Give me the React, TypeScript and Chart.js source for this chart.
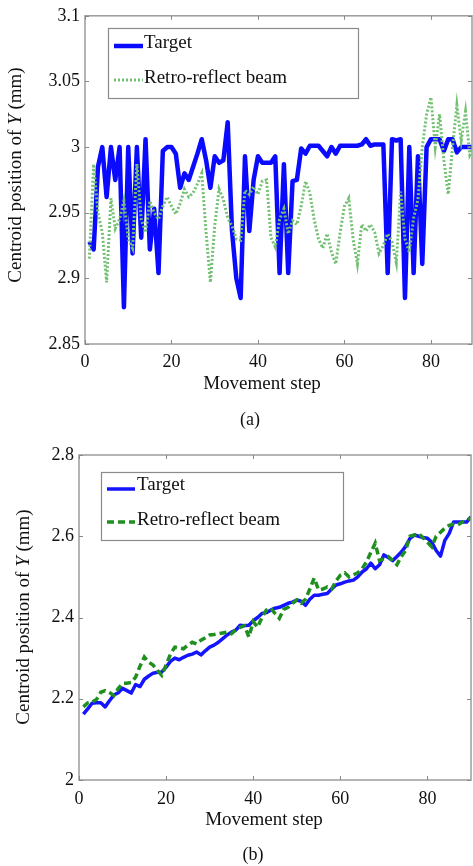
import React, { useEffect, useRef } from "react";
import { Chart, registerables } from "chart.js";
Chart.register(...registerables);

const FONT = '"Liberation Serif", "Times New Roman", Times, serif';

// ---------- data ----------
const firstStep = 1;
const seriesNames = ["Target", "Retro-reflect beam"];
const xTickStep = 20;

// (a)
const targetA = [
  2.928, 2.922, 2.985, 3.0, 2.962, 3.0, 2.975, 3.0, 2.878, 3.0,
  2.919, 3.0, 2.931, 3.006, 2.922, 2.953, 2.904, 2.997, 3.0, 3.0,
  2.995, 2.969, 2.98, 2.975, 2.985, 2.995, 3.006, 2.99, 2.969, 2.993,
  2.988, 2.99, 3.019, 2.936, 2.9, 2.885, 2.993, 2.936, 2.975, 2.993,
  2.988, 2.988, 2.988, 2.993, 2.904, 2.987, 2.904, 2.974, 2.975, 2.999,
  2.995, 3.001, 3.001, 3.001, 2.997, 2.993, 3.0, 2.995, 3.001, 3.001,
  3.001, 3.001, 3.001, 3.002, 3.006, 3.001, 3.002, 3.002, 3.002, 2.904,
  3.006, 3.005, 3.006, 2.885, 3.0, 2.904, 2.993, 2.911, 3.0, 3.006,
  3.006, 3.006, 2.997, 3.006, 3.006, 2.996, 3.0, 3.0, 3.0, 3.0,
];
const retroA = [
  2.915, 2.987, 2.95, 2.935, 2.897, 2.961, 2.938, 2.945, 2.959, 2.93,
  2.923, 2.987, 2.945, 2.935, 2.959, 2.95, 2.945, 2.955, 2.962, 2.955,
  2.949, 2.957, 2.968, 2.962, 2.965, 2.972, 2.98, 2.935, 2.897, 2.94,
  2.968, 2.96, 2.946, 2.94, 2.93, 2.929, 2.967, 2.964, 2.97, 2.964,
  2.974, 2.975, 2.931, 2.924, 2.945, 2.953, 2.934, 2.944, 2.941, 2.955,
  2.974, 2.965, 2.945, 2.93, 2.923, 2.934, 2.92, 2.911, 2.935, 2.955,
  2.961, 2.93, 2.911, 2.941, 2.936, 2.941, 2.935, 2.919, 2.925, 2.934,
  2.928, 2.912, 2.966, 2.93, 2.92, 2.946, 2.96, 3.0, 3.025, 3.038,
  3.0, 3.025, 2.99, 2.964, 3.0, 3.032, 3.005, 3.027, 2.994, 3.0,
];
const yRangeA = [2.85, 3.1];
const yStepA = 0.05;
const xMaxA = 89.5;

// (b)
const targetB = [
  2.162, 2.175, 2.189, 2.19, 2.19, 2.18, 2.195, 2.209, 2.215, 2.226,
  2.22, 2.214, 2.235, 2.23, 2.248, 2.256, 2.263, 2.265, 2.266, 2.278,
  2.292, 2.3, 2.296, 2.302, 2.307, 2.31, 2.315, 2.308, 2.318, 2.327,
  2.332, 2.339, 2.348, 2.357, 2.364, 2.369, 2.381, 2.38, 2.381, 2.392,
  2.4, 2.41, 2.412, 2.418, 2.423, 2.425, 2.43, 2.435, 2.438, 2.443,
  2.44, 2.43, 2.445, 2.455, 2.455, 2.457, 2.459, 2.47, 2.48, 2.483,
  2.487, 2.49, 2.492, 2.5, 2.512, 2.52, 2.534, 2.52, 2.53, 2.554,
  2.548, 2.54, 2.55, 2.561, 2.575, 2.595, 2.603, 2.6, 2.597, 2.595,
  2.585, 2.565, 2.551, 2.59, 2.607, 2.635, 2.635, 2.635, 2.635, 2.648,
];
const retroB = [
  2.18, 2.19, 2.192, 2.198, 2.216, 2.22, 2.215, 2.208, 2.225, 2.238,
  2.238, 2.24, 2.253, 2.28, 2.303, 2.29, 2.283, 2.27, 2.258, 2.283,
  2.31, 2.327, 2.325, 2.323, 2.332, 2.339, 2.335, 2.344, 2.35, 2.357,
  2.358, 2.36, 2.362, 2.364, 2.36, 2.37, 2.376, 2.38, 2.352, 2.39,
  2.376, 2.4, 2.418, 2.423, 2.41, 2.398, 2.42, 2.425, 2.435, 2.443,
  2.435, 2.445, 2.47, 2.497, 2.468, 2.47, 2.475, 2.47, 2.49, 2.504,
  2.51, 2.5, 2.505, 2.51, 2.52, 2.537, 2.56, 2.583, 2.54, 2.545,
  2.55, 2.54, 2.53, 2.55, 2.565, 2.6, 2.603, 2.607, 2.596, 2.585,
  2.574, 2.6, 2.61, 2.62, 2.627, 2.63, 2.628, 2.635, 2.64, 2.645,
];
const yRangeB = [2.0, 2.8];
const yStepB = 0.2;
const xMaxB = 90;

const xTitle = "Movement step";
const yTitleParts = ["Centroid position of ", "Y", " (mm)"];

// ---------- helpers ----------
const fmt = (v: number) => String(Number(Number(v).toFixed(3)));

type LineStyle = { color: string; width: number; dash: number[] };

type Decor = {
  legendBox: [number, number, number, number];
  rows: { sampleY: number; textY: number; x1: number; x2: number; textX: number }[];
  yTitle: [number, number];
  xTitle: [number, number];
  panel: [number, number, string];
};

function decorPlugin(id: string, decor: Decor, styles: LineStyle[]) {
  return {
    id,
    afterDraw(chart: any) {
      const ctx = chart.ctx as CanvasRenderingContext2D;
      const { left, right, top, bottom } = chart.chartArea;
      const xs = chart.scales.x;
      const ys = chart.scales.y;
      ctx.save();
      // axes box
      ctx.strokeStyle = "#9c9c9c";
      ctx.lineWidth = 1.5;
      ctx.strokeRect(left, top, right - left, bottom - top);
      // inward ticks
      ctx.strokeStyle = "#888";
      ctx.lineWidth = 1;
      const tl = 4;
      xs.ticks.forEach((t: any) => {
        const p = Math.round(xs.getPixelForValue(t.value)) + 0.5;
        ctx.beginPath();
        ctx.moveTo(p, bottom);
        ctx.lineTo(p, bottom - tl);
        ctx.moveTo(p, top);
        ctx.lineTo(p, top + tl);
        ctx.stroke();
      });
      ys.ticks.forEach((t: any) => {
        const p = Math.round(ys.getPixelForValue(t.value)) + 0.5;
        ctx.beginPath();
        ctx.moveTo(left, p);
        ctx.lineTo(left + tl, p);
        ctx.moveTo(right, p);
        ctx.lineTo(right - tl, p);
        ctx.stroke();
      });
      // legend
      const [lx1, ly1, lx2, ly2] = decor.legendBox;
      ctx.fillStyle = "#fff";
      ctx.fillRect(lx1, ly1, lx2 - lx1, ly2 - ly1);
      ctx.strokeStyle = "#8a8a8a";
      ctx.lineWidth = 1.2;
      ctx.strokeRect(lx1 + 0.5, ly1 + 0.5, lx2 - lx1, ly2 - ly1);
      decor.rows.forEach((r, i) => {
        const s = styles[i];
        ctx.beginPath();
        ctx.strokeStyle = s.color;
        ctx.lineWidth = s.width;
        ctx.setLineDash(s.dash);
        ctx.moveTo(r.x1, r.sampleY);
        ctx.lineTo(r.x2, r.sampleY);
        ctx.stroke();
        ctx.setLineDash([]);
        ctx.fillStyle = "#111";
        ctx.font = `19px ${FONT}`;
        ctx.textBaseline = "middle";
        ctx.textAlign = "left";
        ctx.fillText(seriesNames[i], r.textX, r.textY);
      });
      // y title
      ctx.save();
      ctx.translate(decor.yTitle[0], decor.yTitle[1]);
      ctx.rotate(-Math.PI / 2);
      const fonts = [`19px ${FONT}`, `italic 19px ${FONT}`, `19px ${FONT}`];
      let total = 0;
      const widths = yTitleParts.map((t, i) => {
        ctx.font = fonts[i];
        const w = ctx.measureText(t).width;
        total += w;
        return w;
      });
      let cx = -total / 2;
      ctx.fillStyle = "#111";
      ctx.textBaseline = "middle";
      ctx.textAlign = "left";
      yTitleParts.forEach((t, i) => {
        ctx.font = fonts[i];
        ctx.fillText(t, cx, 0);
        cx += widths[i];
      });
      ctx.restore();
      // x title
      ctx.font = `19px ${FONT}`;
      ctx.fillStyle = "#111";
      ctx.textAlign = "center";
      ctx.textBaseline = "middle";
      ctx.fillText(xTitle, decor.xTitle[0], decor.xTitle[1]);
      // panel label
      ctx.font = `18px ${FONT}`;
      ctx.fillText(decor.panel[2], decor.panel[0], decor.panel[1]);
      ctx.restore();
    },
  };
}

function buildConfig(o: {
  target: number[];
  retro: number[];
  xMax: number;
  yRange: number[];
  yStep: number;
  yAxisW: number;
  xAxisH: number;
  padTop: number;
  padRight: number;
  xPad: number;
  styles: LineStyle[];
  decor: Decor;
  id: string;
}) {
  const toPts = (arr: number[]) => arr.map((v, i) => ({ x: i + firstStep, y: v }));
  const [st, sr] = o.styles;
  return {
    type: "line" as const,
    data: {
      datasets: [
        {
          label: seriesNames[0],
          data: toPts(o.target),
          borderColor: st.color,
          borderWidth: st.width,
          borderDash: st.dash,
          pointRadius: 0,
          tension: 0,
          fill: false,
          order: 1,
          borderJoinStyle: "round" as const,
        },
        {
          label: seriesNames[1],
          data: toPts(o.retro),
          borderColor: sr.color,
          borderWidth: sr.width,
          borderDash: sr.dash,
          pointRadius: 0,
          tension: 0,
          fill: false,
          order: 0,
        },
      ],
    },
    options: {
      animation: false as const,
      responsive: false,
      devicePixelRatio: 1,
      layout: { padding: { top: o.padTop, right: o.padRight, left: 0, bottom: 0 } },
      plugins: { legend: { display: false }, tooltip: { enabled: false } },
      scales: {
        x: {
          type: "linear" as const,
          min: 0,
          max: o.xMax,
          grid: { display: false, drawTicks: false },
          border: { display: false },
          ticks: {
            stepSize: xTickStep,
            includeBounds: false,
            maxRotation: 0,
            padding: o.xPad,
            color: "#111",
            font: { family: FONT, size: 18 },
          },
          afterFit: (s: any) => {
            s.height = o.xAxisH;
          },
        },
        y: {
          type: "linear" as const,
          min: o.yRange[0],
          max: o.yRange[1],
          grid: { display: false, drawTicks: false },
          border: { display: false },
          ticks: {
            stepSize: o.yStep,
            padding: 5,
            color: "#111",
            font: { family: FONT, size: 18 },
            callback: (v: any) => fmt(v),
          },
          afterFit: (s: any) => {
            s.width = o.yAxisW;
          },
        },
      },
    },
    plugins: [decorPlugin(o.id, o.decor, o.styles)],
  };
}

export default function App() {
  const refA = useRef<HTMLCanvasElement>(null);
  const refB = useRef<HTMLCanvasElement>(null);

  useEffect(() => {
    const stylesA: LineStyle[] = [
      { color: "#0a0aff", width: 4.5, dash: [] },
      { color: "#72c172", width: 3, dash: [2, 2] },
    ];
    const stylesB: LineStyle[] = [
      { color: "#1414ff", width: 3.5, dash: [] },
      { color: "#1f8f1f", width: 3.5, dash: [7, 4] },
    ];
    const cfgA = buildConfig({
      id: "decorA",
      target: targetA,
      retro: retroA,
      xMax: xMaxA,
      yRange: yRangeA,
      yStep: yStepA,
      yAxisW: 85,
      xAxisH: 91,
      padTop: 13,
      padRight: 1,
      xPad: 7,
      styles: stylesA,
      decor: {
        legendBox: [108, 28, 358, 98],
        rows: [
          { sampleY: 46, textY: 43, x1: 114, x2: 143, textX: 144 },
          { sampleY: 80, textY: 78, x1: 114, x2: 143, textX: 144 },
        ],
        yTitle: [16, 175],
        xTitle: [262, 384],
        panel: [250, 420, "(a)"],
      },
    });
    const cfgB = buildConfig({
      id: "decorB",
      target: targetB,
      retro: retroB,
      xMax: xMaxB,
      yRange: yRangeB,
      yStep: yStepB,
      yAxisW: 79,
      xAxisH: 86,
      padTop: 20,
      padRight: 2,
      xPad: 8,
      styles: stylesB,
      decor: {
        legendBox: [101, 37, 343, 105],
        rows: [
          { sampleY: 54, textY: 50, x1: 107, x2: 135, textX: 137 },
          { sampleY: 87, textY: 85, x1: 107, x2: 135, textX: 137 },
        ],
        yTitle: [24, 182],
        xTitle: [264, 385],
        panel: [253, 420, "(b)"],
      },
    });
    const a = new Chart(refA.current as HTMLCanvasElement, cfgA as any);
    const b = new Chart(refB.current as HTMLCanvasElement, cfgB as any);
    return () => {
      a.destroy();
      b.destroy();
    };
  }, []);

  return (
    <div
      style={{
        position: "absolute",
        left: 0,
        top: 0,
        width: 473,
        height: 866,
        background: "#fff",
        overflow: "hidden",
      }}
    >
      <canvas ref={refA} width={473} height={435} style={{ position: "absolute", left: 0, top: 0 }} />
      <canvas ref={refB} width={473} height={431} style={{ position: "absolute", left: 0, top: 435 }} />
    </div>
  );
}
